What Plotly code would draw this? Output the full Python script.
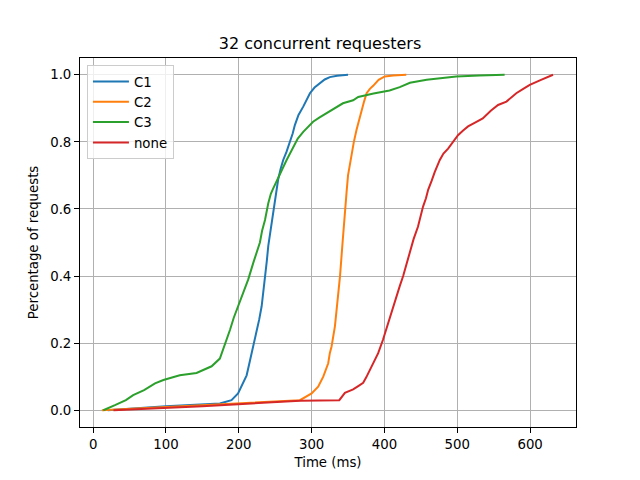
import plotly.graph_objects as go

c1_x = [20, 100, 174, 190, 199, 206, 210.8, 214, 217.7, 221, 224.5, 228, 231.4, 234, 236, 238.5, 240.5, 244, 247, 251, 254, 257.5, 261, 265.5, 270, 274, 277, 282, 288.5, 293, 297.7, 304, 311, 318, 325, 335, 350]
c1_y = [0.0, 0.012, 0.02, 0.03, 0.05, 0.08, 0.104, 0.135, 0.17, 0.195, 0.23, 0.27, 0.31, 0.355, 0.40, 0.445, 0.49, 0.54, 0.587, 0.64, 0.687, 0.72, 0.746, 0.77, 0.796, 0.825, 0.85, 0.88, 0.905, 0.925, 0.945, 0.962, 0.975, 0.986, 0.993, 0.997, 1.0]

c2_x = [12, 150, 284, 300, 309, 316, 322.8, 325, 327.4, 332, 336, 339, 342.5, 345.7, 348, 350, 352.5, 355, 358, 361.7, 365, 368.6, 372, 375.5, 380, 384.5, 392, 400.5, 412, 430]
c2_y = [0.0, 0.015, 0.03, 0.05, 0.07, 0.10, 0.14, 0.17, 0.19, 0.25, 0.33, 0.40, 0.50, 0.60, 0.65, 0.70, 0.735, 0.766, 0.80, 0.836, 0.865, 0.89, 0.92, 0.945, 0.958, 0.967, 0.985, 0.995, 0.998, 1.0]

c3_x = [14, 20, 30, 45, 55, 70, 85, 96.5, 119, 142, 162.7, 174, 179, 183, 188, 193, 199, 206, 213, 220, 224, 229, 232, 236, 240.5, 244, 247, 254, 260, 265.7, 270, 274.8, 281, 288.5, 295, 302, 311, 320.6, 330, 343, 357, 364, 385, 407, 421, 435, 458, 480, 498.6, 530, 565]
c3_y = [0.0, 0.005, 0.015, 0.03, 0.045, 0.06, 0.08, 0.09, 0.104, 0.111, 0.131, 0.154, 0.184, 0.21, 0.24, 0.275, 0.31, 0.35, 0.39, 0.44, 0.47, 0.50, 0.535, 0.567, 0.617, 0.645, 0.66, 0.69, 0.72, 0.746, 0.765, 0.786, 0.81, 0.83, 0.845, 0.86, 0.873, 0.886, 0.9, 0.915, 0.924, 0.934, 0.944, 0.953, 0.963, 0.976, 0.985, 0.99, 0.995, 0.998, 1.0]

none_x = [28, 150, 284, 338, 345.7, 350, 357, 364, 370.8, 375, 380, 386, 391.4, 398, 403, 407.4, 412, 416.5, 421, 425.7, 430, 434.8, 440, 446, 449.5, 453, 457, 460, 465, 469, 476, 481, 487.4, 494, 501, 508, 514.8, 525, 535, 546, 556, 567.5, 581, 590, 599.5, 615, 631.5]
none_y = [0.0, 0.012, 0.028, 0.03, 0.052, 0.056, 0.062, 0.072, 0.082, 0.098, 0.12, 0.145, 0.17, 0.21, 0.245, 0.28, 0.31, 0.34, 0.37, 0.40, 0.435, 0.47, 0.51, 0.547, 0.578, 0.607, 0.632, 0.657, 0.685, 0.71, 0.746, 0.765, 0.78, 0.80, 0.82, 0.834, 0.846, 0.858, 0.87, 0.893, 0.91, 0.92, 0.945, 0.957, 0.97, 0.985, 1.0]

series = [
    ("C1", c1_x, c1_y, "#1f77b4"),
    ("C2", c2_x, c2_y, "#ff7f0e"),
    ("C3", c3_x, c3_y, "#2ca02c"),
    ("none", none_x, none_y, "#d62728"),
]

x_ticks = [0, 100, 200, 300, 400, 500, 600]
y_ticks = [0.0, 0.2, 0.4, 0.6, 0.8, 1.0]

fig = go.Figure()
for name, xs, ys, col in series:
    fig.add_trace(go.Scatter(x=xs, y=ys, mode="lines", name=name,
                             line=dict(color=col, width=2)))

font = "DejaVu Sans"
fig.update_layout(
    width=640, height=480,
    margin=dict(l=80, r=64, t=57.6, b=52.8),
    paper_bgcolor="white", plot_bgcolor="white",
    font=dict(family=font, size=13.3, color="black"),
    title=dict(text="32 concurrent requesters", x=0.5, xanchor="center",
               y=1 - 43 / 480, yanchor="middle", font=dict(size=16, family=font)),
    showlegend=True,
    legend=dict(x=0.014, y=0.98, xanchor="left", yanchor="top",
                bgcolor="rgba(255,255,255,0.8)", bordercolor="#cccccc", borderwidth=1,
                font=dict(size=13.3, family=font), tracegroupgap=0, itemwidth=36),
)
axis_common = dict(
    showline=True, linecolor="black", linewidth=1, mirror=True,
    showgrid=True, gridcolor="#b0b0b0", gridwidth=1,
    ticks="outside", ticklen=5, tickwidth=1, tickcolor="black",
    zeroline=False, tickfont=dict(size=13.3, family=font),
)
fig.update_xaxes(range=[-18, 663], tickvals=x_ticks, ticktext=[str(v) for v in x_ticks],
                 title=dict(text="Time (ms)", font=dict(size=13.3), standoff=6), **axis_common)
fig.update_yaxes(range=[-0.05, 1.05], tickvals=y_ticks, ticktext=[f"{v:.1f}" for v in y_ticks],
                 title=dict(text="Percentage of requests", font=dict(size=13.3), standoff=8), **axis_common)

fig.write_html("out.html")
